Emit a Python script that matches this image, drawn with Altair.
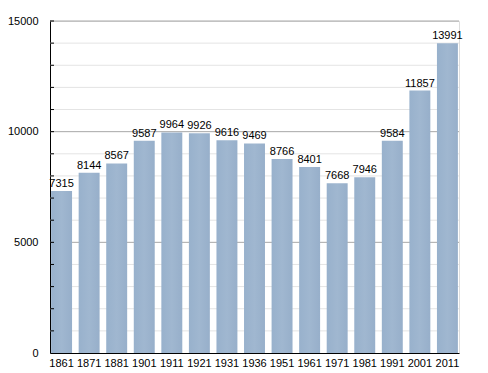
import altair as alt
import pandas as pd

years = ["1861", "1871", "1881", "1901", "1911", "1921", "1931", "1936", "1951", "1961", "1971", "1981", "1991", "2001", "2011"]
population = [7315, 8144, 8567, 9587, 9964, 9926, 9616, 9469, 8766, 8401, 7668, 7946, 9584, 11857, 13991]
grid_minor = [1000, 2000, 3000, 4000, 6000, 7000, 8000, 9000, 11000, 12000, 13000, 14000]
grid_major = [5000, 10000, 15000]
tick_vals = [1000, 2000, 3000, 4000, 5000, 6000, 7000, 8000, 9000, 10000, 11000, 12000, 13000, 14000, 15000]

df = pd.DataFrame({"year": years, "pop": population})
gmin = pd.DataFrame({"v": grid_minor})
gmaj = pd.DataFrame({"v": grid_major})
ticks = pd.DataFrame({"v": tick_vals})

yscale = alt.Scale(domain=[0, 15000], nice=False)
font = "Liberation Sans"

yaxis = alt.Axis(title=None, values=[0] + grid_major, grid=False, ticks=False, format="d",
                 labelFontSize=11, labelFont=font, labelColor="#000",
                 domainColor="#000", labelPadding=12)

x = alt.X("year:N", sort=None, scale=alt.Scale(paddingInner=0.24, paddingOuter=0.04),
          axis=alt.Axis(title=None, ticks=False, labelAngle=0, labelFontSize=11, labelFont=font,
                        labelColor="#000", domainColor="#000", labelPadding=4))

minor = alt.Chart(gmin).mark_rule(color="#e4e4e4", strokeWidth=1).encode(
    y=alt.Y("v:Q", scale=yscale, axis=yaxis))
major = alt.Chart(gmaj).mark_rule(color="#a8a8a8", strokeWidth=1).encode(
    y=alt.Y("v:Q", scale=yscale))
tickmarks = alt.Chart(ticks).mark_rule(color="#000", strokeWidth=1).encode(
    y=alt.Y("v:Q", scale=yscale), x=alt.value(0), x2=alt.value(4))

bars = alt.Chart(df).mark_bar(
    color=alt.Gradient(gradient="linear", x1=0, x2=1, y1=0, y2=0,
                       stops=[alt.GradientStop(color="#98b1cc", offset=0),
                              alt.GradientStop(color="#a0b7d0", offset=0.5),
                              alt.GradientStop(color="#97afca", offset=1)])
).encode(x=x, y=alt.Y("pop:Q", scale=yscale))

labels = alt.Chart(df).mark_text(baseline="bottom", dy=-2, fontSize=11, font=font, color="#000").encode(
    x=alt.X("year:N", sort=None), y=alt.Y("pop:Q", scale=yscale), text="pop:Q")

chart = alt.layer(minor, major, bars, tickmarks, labels).properties(
    width=409, height=332,
    autosize=alt.AutoSizeParams(type="none"),
    padding={"left": 42, "top": 13, "right": 21, "bottom": 20}
).resolve_axis(y="shared").configure_view(stroke=None).configure(background="white")

chart.save("out.html", embed_options={"renderer": "svg", "actions": False})
